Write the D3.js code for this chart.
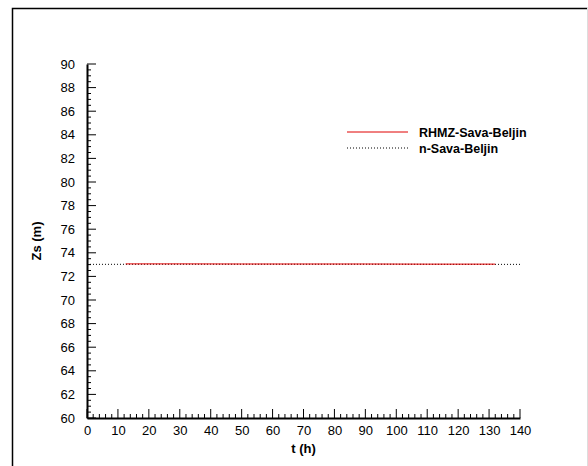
<!DOCTYPE html>
<html><head><meta charset="utf-8">
<script src="https://cdn.jsdelivr.net/npm/d3@7"></script>
<style>body{margin:0;background:#fff}svg{display:block}text{font-family:"Liberation Sans",Arial,sans-serif}</style>
</head><body><svg id="c" width="588" height="466"></svg>
<script>
const seriesNames = ["RHMZ-Sava-Beljin", "n-Sava-Beljin"];
const rhmzT = [12.5, 30, 50, 70, 90, 110, 132];
const rhmzZ = [73.06, 73.06, 73.05, 73.05, 73.05, 73.04, 73.04];
const modelT = [0, 20, 40, 60, 80, 100, 120, 140];
const modelZ = [73.02, 73.03, 73.03, 73.03, 73.03, 73.03, 73.02, 73.02];
const xTicks = [0,10,20,30,40,50,60,70,80,90,100,110,120,130,140];
const yTicks = [60,62,64,66,68,70,72,74,76,78,80,82,84,86,88,90];

const svg = d3.select("#c");
svg.append("rect").attr("x",0).attr("y",0).attr("width",588).attr("height",466).attr("fill","#fff");
svg.append("path").attr("d","M12.5,466 V8.5 H587.5").attr("fill","none").attr("stroke","#000").attr("stroke-width",1.5);
svg.append("line").attr("x1",587.5).attr("x2",587.5).attr("y1",8).attr("y2",466).attr("stroke","#ddd");

const x = d3.scaleLinear().domain([0,140]).range([87,520]);
const y = d3.scaleLinear().domain([60,90]).range([418,64]);

const g = svg.append("g");
d3.range(0,140.01,2).forEach(v=>{
  const major = v%10===0;
  g.append("line").attr("x1",x(v)).attr("x2",x(v)).attr("y1",418).attr("y2",418-(major?9:4)).attr("stroke","#000").attr("stroke-width",1);
});
d3.range(60,90.01,0.5).forEach(v=>{
  const major = Math.abs(v%2)<1e-9;
  g.append("line").attr("x1",87).attr("x2",87+(major?9:4)).attr("y1",y(v)).attr("y2",y(v)).attr("stroke","#000").attr("stroke-width",1);
});
const xa = svg.append("g").attr("transform","translate(0,418)").call(d3.axisBottom(x).tickValues(xTicks).tickSize(0).tickPadding(8));
const ya = svg.append("g").attr("transform","translate(87,0)").call(d3.axisLeft(y).tickValues(yTicks).tickSize(0).tickPadding(12));
[xa,ya].forEach(a=>{a.select(".domain").attr("stroke","#000").attr("stroke-width",2);a.selectAll("text").attr("font-size",13).attr("fill","#000").attr("font-family","Liberation Sans, Arial, sans-serif");});

svg.append("text").attr("x",x(70)).attr("y",453).attr("text-anchor","middle").attr("font-weight","bold").attr("font-size",13).text("t (h)");
svg.append("text").attr("transform","translate(41,"+y(75)+") rotate(-90)").attr("text-anchor","middle").attr("font-weight","bold").attr("font-size",13).text("Zs (m)");

const line = d3.line().x(d=>x(d[0])).y(d=>y(d[1]));
svg.append("path").datum(modelT.map((t,i)=>[t,modelZ[i]])).attr("d",line).attr("fill","none").attr("stroke","#000").attr("stroke-width",1).attr("stroke-dasharray","1,2");
svg.append("path").datum(rhmzT.map((t,i)=>[t,rhmzZ[i]])).attr("d",line).attr("fill","none").attr("stroke","#e00000").attr("stroke-width",1);

const leg = [{c:"#e00000",d:null},{c:"#000",d:"1,2"}];
seriesNames.forEach((n,i)=>{
  const yy = 132 + i*16;
  svg.append("line").attr("x1",347).attr("x2",408).attr("y1",yy).attr("y2",yy).attr("stroke",leg[i].c).attr("stroke-width",1).attr("stroke-dasharray",leg[i].d);
  svg.append("text").attr("x",419).attr("y",yy+4.5).attr("font-weight","bold").attr("font-size",12.5).text(n);
});
</script></body></html>
